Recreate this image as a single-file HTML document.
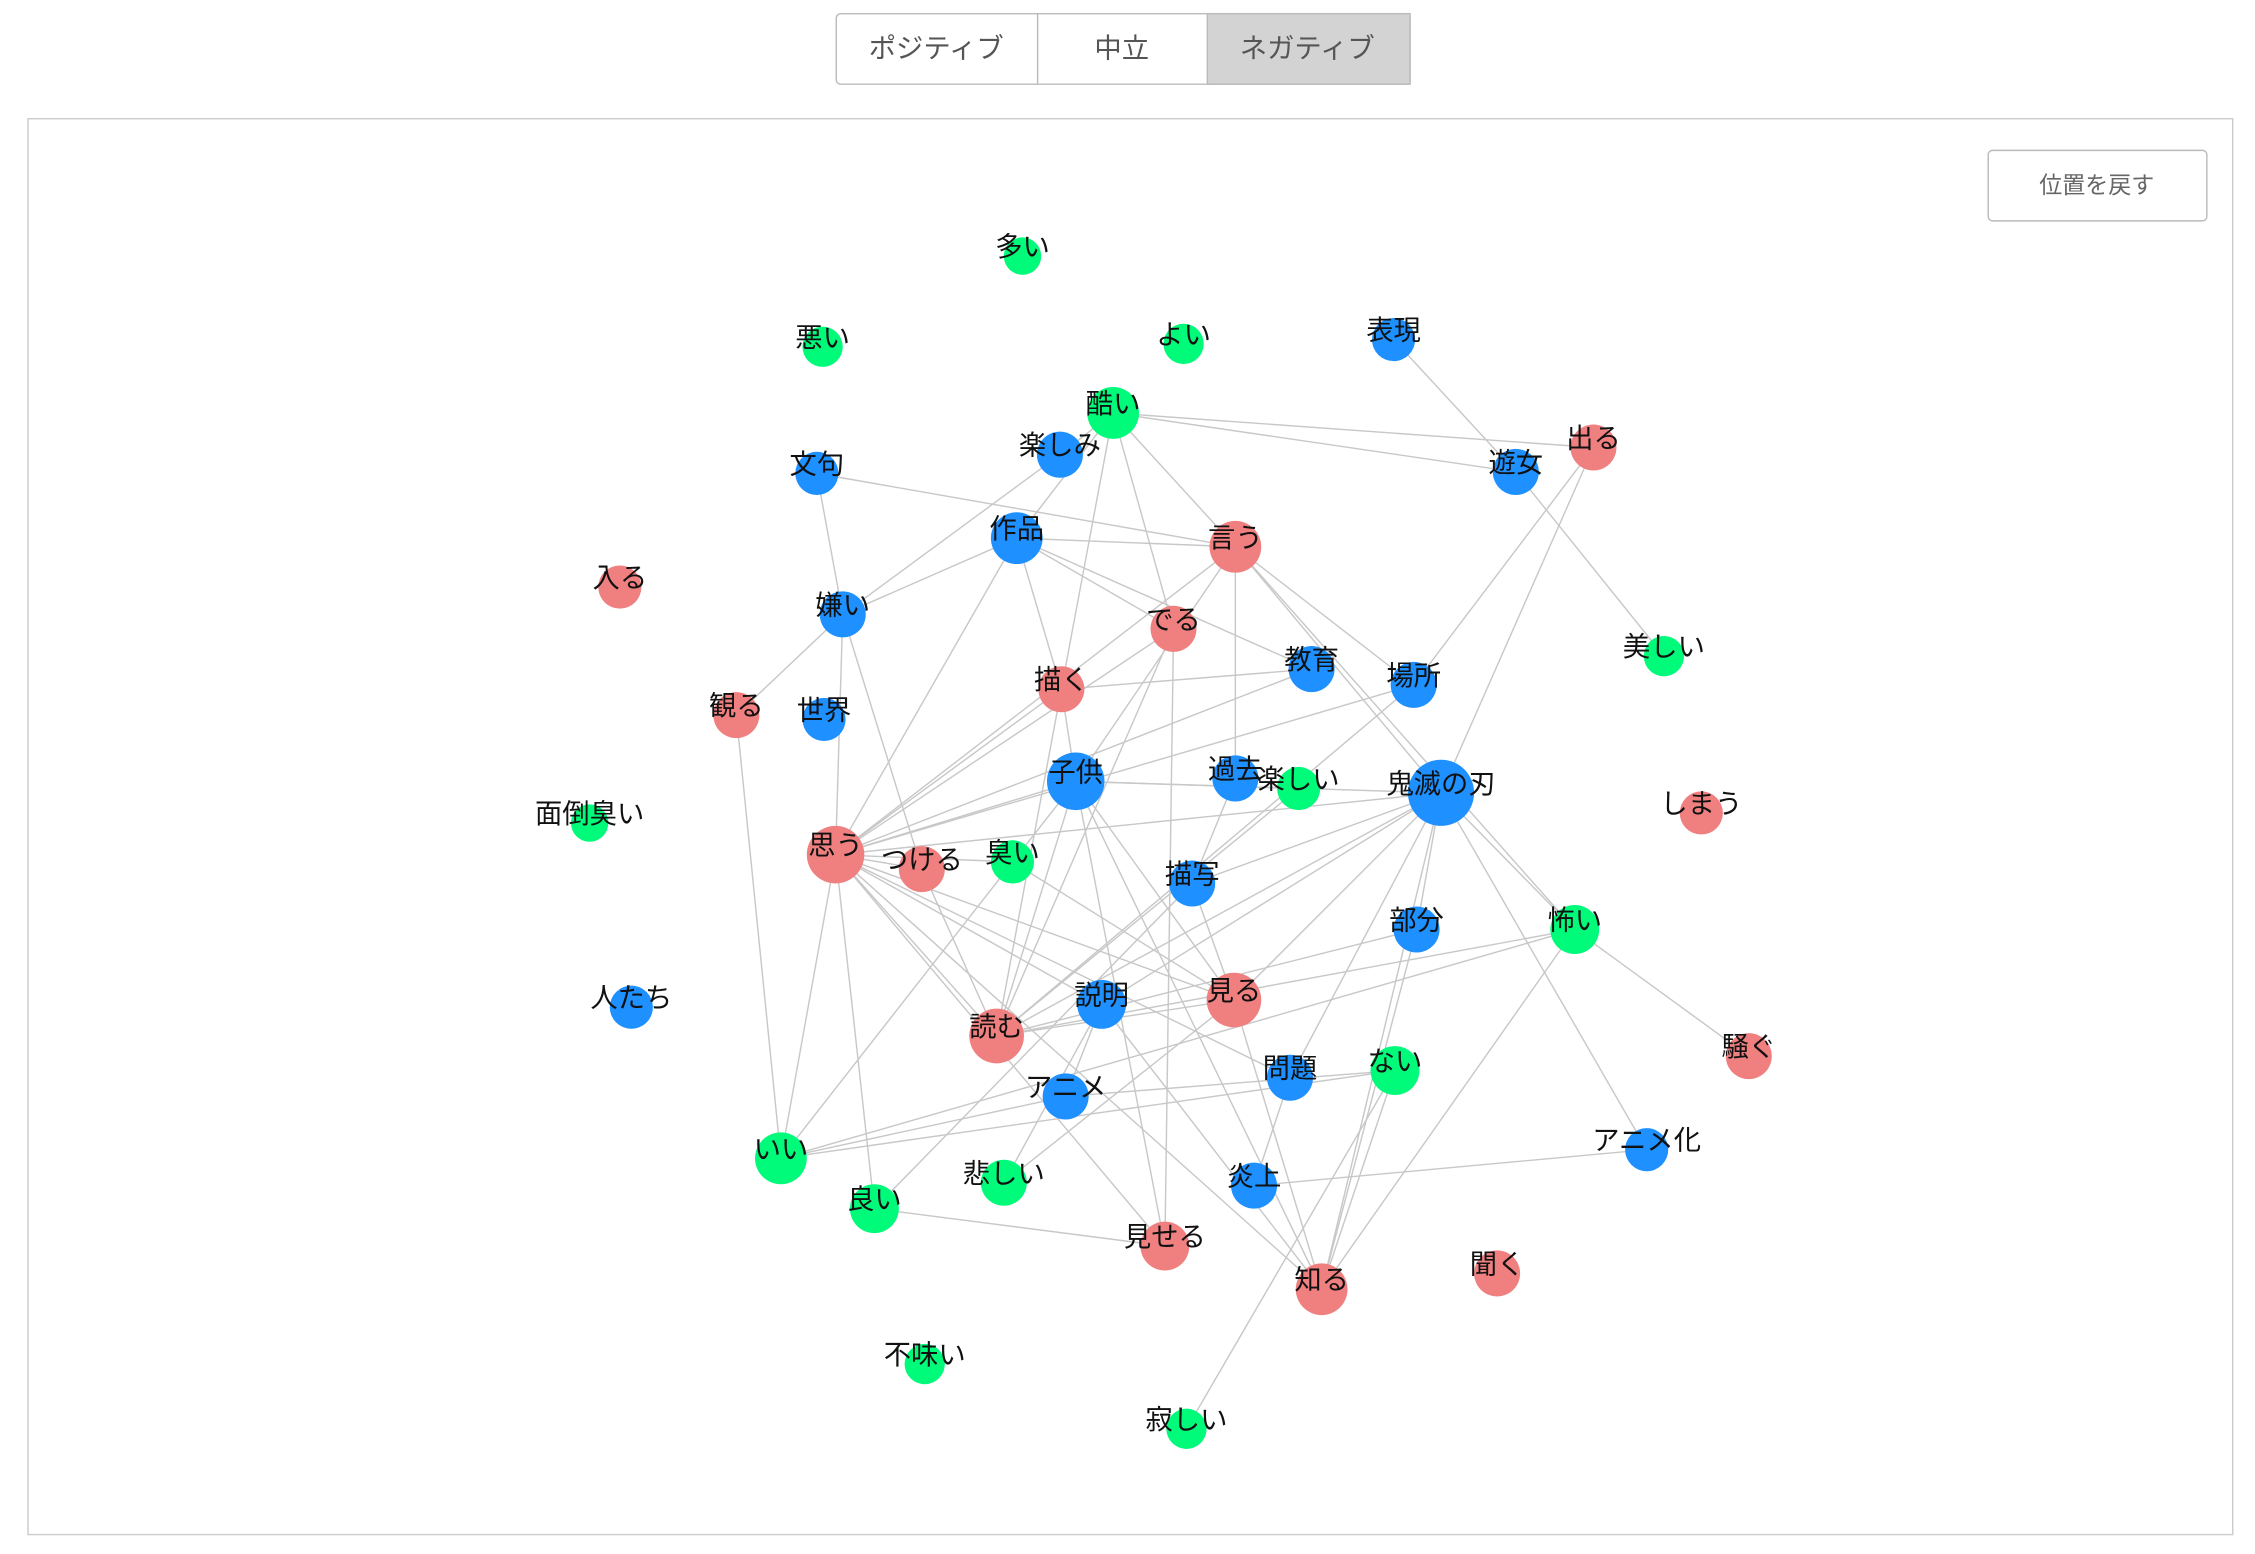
<!DOCTYPE html>
<html><head><meta charset="utf-8"><style>
html,body{margin:0;padding:0;background:#fff;}
svg{display:block;}
text{font-family:"Liberation Sans","Noto Sans CJK JP",sans-serif;}
</style></head><body>
<svg id="s" width="2255" height="1554" viewBox="0 0 1568 1080" preserveAspectRatio="none" xmlns="http://www.w3.org/2000/svg">
<rect x="0" y="0" width="1568" height="1080" fill="#fff"/>
<!-- top buttons -->
<rect x="581.5" y="9.5" width="399" height="49" rx="3" fill="#fff" stroke="#bbb"/>
<rect x="839.5" y="9.5" width="141" height="49" fill="#d3d3d3" stroke="#bbb"/>
<line x1="721.5" y1="9.5" x2="721.5" y2="58.5" stroke="#bbb"/>
<text x="651" y="40" font-size="19" fill="#555" text-anchor="middle">ポジティブ</text>
<text x="780" y="40" font-size="19" fill="#555" text-anchor="middle">中立</text>
<text x="909" y="40" font-size="19" fill="#555" text-anchor="middle">ネガティブ</text>
<!-- frame -->
<rect x="19.5" y="82.5" width="1533" height="984" fill="#fff" stroke="#ccc"/>
<rect x="1382.5" y="104.5" width="152" height="49" rx="3" fill="#fff" stroke="#bbb"/>
<text x="1458" y="134" font-size="16" fill="#666" text-anchor="middle">位置を戻す</text>
<g id="edges" stroke="#c8c8c8" stroke-width="1" fill="none"></g>
<g id="nodes"></g>
</svg>
<script>
var R="#f08080",B="#1e90ff",G="#00fa7a";
var N={
"多い":[711,178,13,G],"悪い":[572,241,14,G],"よい":[823,239,14,G],"表現":[969,236,15,B],
"酷い":[774,287,18,G],"出る":[1108,311,16,R],"文句":[568,329,15,B],"楽しみ":[737,316,16,B],
"遊女":[1054,328,16,B],"作品":[707,374,18,B],"言う":[859,380,18,R],"入る":[431,408,15,R],
"嫌い":[586,427,16,B],"でる":[816,437,16,R],"美しい":[1157,456,14,G],"教育":[912,465,16,B],
"場所":[983,476,16,B],"描く":[738,479,16,R],"観る":[512,497,16,R],"世界":[573,500,15,B],
"子供":[748,543,20,B],"過去":[859,541,16,B],"楽しい":[903,548,15,G],"鬼滅の刃":[1002,551,23,B],
"しまう":[1183,565,15,R],"面倒臭い":[410,572,13,G],"思う":[581,594,20,R],"つける":[641,604,16,R],
"臭い":[704,599,15,G],"描写":[829,614,16,B],"部分":[985,646,16,B],"怖い":[1095,646,17,G],
"人たち":[439,700,15,B],"説明":[766,698,17,B],"見る":[858,695,19,R],"読む":[693,720,19,R],
"騒ぐ":[1216,734,16,R],"問題":[897,749,16,B],"ない":[970,744,17,G],"アニメ":[741,762,16,B],
"アニメ化":[1145,799,15,B],"いい":[543,805,18,G],"悲しい":[698,822,16,G],"炎上":[872,824,16,B],
"良い":[608,840,17,G],"見せる":[810,866,17,R],"知る":[919,896,18,R],"聞く":[1041,885,16,R],
"不味い":[643,948,14,G],"寂しい":[825,993,14,G]};
var E="酷い-出る 酷い-遊女 酷い-作品 酷い-楽しみ 酷い-言う 酷い-描く 酷い-でる 表現-遊女 遊女-美しい 出る-場所 出る-鬼滅の刃 文句-言う 文句-嫌い 作品-嫌い 作品-言う 作品-でる 作品-思う 作品-教育 作品-描く 楽しみ-嫌い 嫌い-思う 嫌い-つける 嫌い-観る 観る-いい 言う-思う 言う-子供 言う-場所 言う-鬼滅の刃 言う-過去 言う-怖い でる-思う でる-読む でる-見せる 描く-思う 描く-子供 描く-教育 描く-読む 子供-思う 子供-見る 子供-見せる 子供-知る 子供-鬼滅の刃 子供-読む 子供-楽しい 子供-いい 鬼滅の刃-思う 鬼滅の刃-読む 鬼滅の刃-見る 鬼滅の刃-知る 鬼滅の刃-怖い 鬼滅の刃-アニメ化 鬼滅の刃-問題 鬼滅の刃-部分 鬼滅の刃-説明 鬼滅の刃-描写 場所-思う 場所-読む 教育-思う 思う-いい 思う-良い 思う-見る 思う-読む 思う-見せる 思う-問題 思う-知る 思う-説明 思う-つける 思う-臭い 怖い-騒ぐ 怖い-知る 怖い-読む 怖い-いい ない-知る ない-アニメ ない-いい 問題-炎上 炎上-アニメ化 見せる-良い 見る-知る 見る-読む 説明-悲しい 説明-アニメ 寂しい-ない 部分-知る 描写-良い 描写-見る アニメ-いい 知る-説明 悲しい-見る 過去-描写 臭い-見る つける-読む 楽しい-読む 部分-読む".split(" ");
var ns="http://www.w3.org/2000/svg",eg=document.getElementById("edges"),ng=document.getElementById("nodes");
E.forEach(function(e){var p=e.split("-"),a=N[p[0]],b=N[p[1]];if(!a||!b)return;
var l=document.createElementNS(ns,"line");l.setAttribute("x1",a[0]);l.setAttribute("y1",a[1]);l.setAttribute("x2",b[0]);l.setAttribute("y2",b[1]);eg.appendChild(l);});
for(var k in N){var n=N[k];var c=document.createElementNS(ns,"circle");c.setAttribute("cx",n[0]);c.setAttribute("cy",n[1]);c.setAttribute("r",n[2]);c.setAttribute("fill",n[3]);ng.appendChild(c);}
for(var k in N){var n=N[k];var t=document.createElementNS(ns,"text");t.setAttribute("x",n[0]);t.setAttribute("y",n[1]);t.setAttribute("font-size","19");t.setAttribute("text-anchor","middle");t.setAttribute("fill","#111");t.textContent=k;ng.appendChild(t);}
</script>
</body></html>
